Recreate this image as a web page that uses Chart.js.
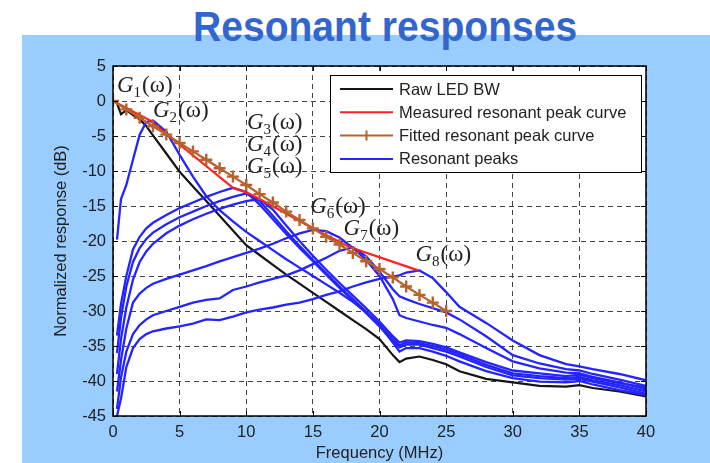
<!DOCTYPE html>
<html>
<head>
<meta charset="utf-8">
<title>Resonant responses</title>
<script src="https://cdn.jsdelivr.net/npm/chart.js@4.4.0/dist/chart.umd.min.js"></script>
<style>
  html, body { margin: 0; padding: 0; width: 710px; height: 463px; overflow: hidden; background: #fff; }
  #panel { position: absolute; left: 22px; top: 35px; right: 0; bottom: 0; background: #99ccff; }
  #title { position: absolute; left: 193px; top: 6px; margin: 0; white-space: nowrap;
           font: bold 42px 'Liberation Sans', Arial, Helvetica, sans-serif; line-height: 42px; color: #3366cc;
           transform: scaleX(0.93); transform-origin: 0 0; }
  #wrap { position: absolute; left: 0; top: 0; width: 710px; height: 463px; }
</style>
</head>
<body>
<div id="panel"></div>
<h1 id="title">Resonant responses</h1>
<div id="wrap"><canvas id="resChart" width="710" height="463"></canvas></div>
<script>
// frequency grid (MHz) shared by the raw response and the resonant peaks
const freqGrid = [0, 0.3, 0.6, 1, 1.5, 2, 2.5, 3, 4, 5, 6, 7, 8, 9, 10, 11, 12, 13, 14, 15,
                  16, 17, 18, 19, 20, 21, 21.5, 22, 23, 24, 25, 26, 28, 30, 32, 34, 35, 36, 38, 40];

const rawLed = [0, -0.3, -1.9, -1.3, -2.0, -2.6, -3.6, -4.9, -7.5, -10.1, -12.2, -14.3, -16.4, -18.5, -20.6, -22.0, -23.4, -24.8, -26.1, -27.4,
                -28.7, -30.0, -31.3, -32.6, -34.0, -36.3, -37.3, -36.8, -36.5, -37.0, -37.6, -38.6, -39.7, -40.2, -40.7, -40.8, -40.6, -41.0, -41.5, -42.2];

const peakG2 = [null, -19.8, -14.0, -12.0, -8.4, -4.8, -3.0, -2.8, -4.4, -7.7, -10.8, -13.6, -15.6, -17.2, -18.7, -20.0, -21.3, -22.6, -23.8, -25.0,
                -26.2, -27.4, -28.7, -30.2, -32.0, -34.5, -35.8, -35.3, -35.3, -35.8, -36.4, -37.2, -38.6, -39.6, -40.1, -40.2, -40.0, -40.5, -41.3, -42.0];
const peakG3 = [null, -33.5, -29.0, -25.0, -21.2, -19.4, -18.2, -17.4, -16.3, -15.3, -14.5, -13.7, -13.0, -12.4, -13.0, -14.8, -16.9, -19.0, -21.0, -22.9,
                -24.8, -26.7, -28.5, -30.3, -32.2, -34.3, -35.2, -34.8, -34.8, -35.3, -35.8, -36.5, -38.0, -39.2, -39.6, -39.8, -39.7, -40.1, -40.9, -41.8];
const peakG4 = [null, -36.0, -31.0, -26.5, -23.0, -21.0, -19.7, -18.8, -17.6, -16.6, -15.8, -15.0, -14.3, -13.7, -13.2, -14.3, -16.4, -18.6, -20.7, -22.7,
                -24.6, -26.5, -28.3, -30.1, -31.9, -34.0, -34.9, -34.5, -34.6, -35.0, -35.5, -36.2, -37.7, -38.9, -39.3, -39.6, -39.4, -39.9, -40.6, -41.5];
const peakG5 = [null, -39.0, -34.0, -29.5, -25.5, -23.0, -21.5, -20.4, -18.9, -17.8, -16.9, -16.1, -15.4, -14.8, -14.3, -14.0, -15.5, -17.8, -20.0, -22.1,
                -24.1, -26.0, -27.8, -29.6, -31.5, -33.6, -34.5, -34.2, -34.3, -34.7, -35.2, -35.9, -37.3, -38.5, -38.9, -39.3, -39.1, -39.6, -40.3, -40.9];
const peakG6 = [null, -41.5, -37.0, -32.5, -28.8, -27.5, -26.7, -26.1, -25.4, -24.8, -24.2, -23.6, -22.9, -22.3, -21.7, -21.1, -20.4, -19.6, -18.9, -18.4,
                -18.6, -19.5, -21.0, -22.7, -25.0, -28.3, -30.6, -31.0, -31.5, -32.0, -32.4, -33.3, -35.3, -37.2, -38.2, -38.8, -38.9, -39.4, -40.2, -41.2];
const peakG7 = [null, -44.0, -39.5, -35.8, -33.3, -32.0, -31.2, -30.6, -30.0, -29.4, -28.8, -28.4, -28.2, -27.0, -26.5, -25.9, -25.4, -24.9, -24.2, -23.3,
                -22.4, -21.4, -20.9, -22.2, -24.4, -26.9, -27.9, -28.3, -29.0, -29.6, -30.2, -31.2, -33.6, -36.3, -37.5, -38.3, -38.5, -39.0, -39.8, -40.7];
const peakG8 = [null, -45.0, -42.5, -38.0, -35.3, -34.0, -33.3, -32.9, -32.5, -32.2, -31.8, -31.2, -31.3, -30.8, -30.2, -29.8, -29.5, -29.1, -28.8, -28.3,
                -27.7, -27.2, -26.5, -25.9, -25.4, -25.1, -24.9, -24.5, -24.2, -25.3, -27.3, -29.4, -31.7, -34.2, -36.3, -37.6, -37.9, -38.3, -39.0, -39.9];
const peakSeries = [peakG2, peakG3, peakG4, peakG5, peakG6, peakG7, peakG8];

// envelope through the peaks, measured and fitted
const measuredFreq = [0, 2.8, 9, 10.2, 11, 15.2, 17.8, 22.9];
const measuredDb = [0, -2.8, -12.4, -13.2, -14.0, -18.4, -20.9, -24.2];
const fittedFreq = [0, 1, 2, 3, 4, 5, 6, 7, 8, 9, 10, 11, 12, 13, 14, 15, 16, 17, 18, 19, 20, 21, 22, 23, 24, 25];
const fittedDb = [0, -1.2, -2.4, -3.6, -4.8, -6.0, -7.2, -8.4, -9.6, -10.8, -12.0, -13.3, -14.5, -15.8, -17.0, -18.2,
                  -19.4, -20.5, -21.7, -22.9, -24.0, -25.2, -26.5, -27.7, -28.8, -30.0];

const xTicks = [0, 5, 10, 15, 20, 25, 30, 35, 40];
const yTicks = [5, 0, -5, -10, -15, -20, -25, -30, -35, -40, -45];

// G_n(w) annotations
const curveIndex = ['1', '2', '3', '4', '5', '6', '7', '8'];
const labelFreq = [0.3, 3.0, 10.05, 10.05, 10.05, 14.8, 17.3, 22.7];
const labelDb = [1.3, -2.3, -4.0, -7.1, -10.3, -16.0, -19.1, -22.9];

const legendLabels = ['Raw LED BW', 'Measured resonant peak curve', 'Fitted resonant peak curve', 'Resonant peaks'];

const SANS = "'Liberation Sans', Arial, Helvetica, sans-serif";
const SERIF = "'Liberation Serif', 'Times New Roman', serif";
const BLUE = '#2424ff';
const BROWN = '#b8612a';

function toPoints(xs, ys) {
    return xs.map((x, i) => ({ x: x, y: ys[i] })).filter(p => p.y !== null);
}

const datasets = [];
datasets.push({ label: legendLabels[2], data: toPoints(fittedFreq, fittedDb), borderColor: BROWN, borderWidth: 2.2,
                pointStyle: 'cross', pointRadius: 6, pointBorderWidth: 2.4, pointBorderColor: BROWN });
datasets.push({ label: legendLabels[1], data: toPoints(measuredFreq, measuredDb), borderColor: '#ff2020', borderWidth: 2.2, pointRadius: 0 });
peakSeries.forEach((s, i) => {
    datasets.push({ label: i === 0 ? legendLabels[3] : 'G' + (i + 2), data: toPoints(freqGrid, s),
                    borderColor: BLUE, borderWidth: 2.3, pointRadius: 0 });
});
datasets.push({ label: legendLabels[0], data: toPoints(freqGrid, rawLed), borderColor: '#151515', borderWidth: 2.2, pointRadius: 0 });

// white plot area, box, inward ticks, curve names and the boxed legend
const framePlugin = {
    id: 'frame',
    beforeDraw(chart) {
        const { ctx, chartArea: a } = chart;
        ctx.save();
        ctx.fillStyle = '#fff';
        ctx.fillRect(a.left, a.top, a.width, a.height);
        ctx.restore();
    },
    afterDatasetsDraw(chart) {
        const { ctx, chartArea: a, scales: { x, y } } = chart;
        ctx.save();

        // curve names
        ctx.fillStyle = '#222';
        ctx.textBaseline = 'alphabetic';
        ctx.textAlign = 'left';
        labelFreq.forEach((f, i) => {
            let px = x.getPixelForValue(f);
            const py = y.getPixelForValue(labelDb[i]);
            ctx.font = 'italic 23px ' + SERIF;
            ctx.fillText('G', px, py);
            px += ctx.measureText('G').width;
            ctx.font = '15px ' + SERIF;
            ctx.fillText(curveIndex[i], px, py + 5);
            px += ctx.measureText(curveIndex[i]).width + 1;
            ctx.font = '23px ' + SERIF;
            ctx.fillText('(\u03c9)', px, py);
        });

        // box and inward tick marks
        ctx.strokeStyle = '#000';
        ctx.lineWidth = 1.5;
        ctx.setLineDash([]);
        ctx.strokeRect(a.left, a.top, a.width, a.height);
        ctx.lineWidth = 1;
        ctx.beginPath();
        xTicks.forEach(v => {
            const px = Math.round(x.getPixelForValue(v)) + 0.5;
            ctx.moveTo(px, a.bottom); ctx.lineTo(px, a.bottom - 5);
            ctx.moveTo(px, a.top); ctx.lineTo(px, a.top + 5);
        });
        yTicks.forEach(v => {
            const py = Math.round(y.getPixelForValue(v)) + 0.5;
            ctx.moveTo(a.left, py); ctx.lineTo(a.left + 5, py);
            ctx.moveTo(a.right, py); ctx.lineTo(a.right - 5, py);
        });
        ctx.stroke();

        // legend
        const lx = a.left + 217, ly = a.top + 9, lw = 311, lh = 97;
        ctx.fillStyle = '#fff';
        ctx.fillRect(lx, ly, lw, lh);
        ctx.strokeStyle = '#000';
        ctx.strokeRect(lx + 0.5, ly + 0.5, lw, lh);
        ctx.font = '16.5px ' + SANS;
        ctx.textBaseline = 'middle';
        legendLabels.forEach((txt, i) => {
            const ds = chart.data.datasets.find(d => d.label === txt);
            const ry = ly + 14 + i * 23.3;
            ctx.strokeStyle = ds.borderColor;
            ctx.lineWidth = 2;
            ctx.beginPath();
            ctx.moveTo(lx + 10, ry); ctx.lineTo(lx + 63, ry);
            if (ds.pointStyle === 'cross') {
                ctx.moveTo(lx + 36.5, ry - 5); ctx.lineTo(lx + 36.5, ry + 5);
            }
            ctx.stroke();
            ctx.fillStyle = '#222';
            ctx.fillText(txt, lx + 69, ry + 1);
        });
        ctx.restore();
    }
};

new Chart(document.getElementById('resChart').getContext('2d'), {
    type: 'line',
    data: { datasets: datasets },
    options: {
        responsive: false,
        animation: false,
        devicePixelRatio: 1,
        layout: { padding: { top: 66, right: 64, left: 0, bottom: 0 } },
        elements: { line: { tension: 0, fill: false } },
        plugins: { legend: { display: false }, tooltip: { enabled: false } },
        scales: {
            x: {
                type: 'linear', min: 0, max: 40,
                afterBuildTicks: s => { s.ticks = xTicks.map(v => ({ value: v })); },
                afterFit: s => { s.height = 47; },
                grid: { color: '#444', lineWidth: 1, drawTicks: false },
                border: { display: false, dash: [5, 4] },
                ticks: { color: '#222', padding: 7, font: { family: SANS, size: 16.5 }, maxRotation: 0, callback: v => String(v) },
                title: { display: true, text: 'Frequency (MHz)', color: '#222', padding: { top: 0, bottom: 0 },
                         font: { family: SANS, size: 16.5 } }
            },
            y: {
                type: 'linear', min: -45, max: 5,
                afterBuildTicks: s => { s.ticks = yTicks.map(v => ({ value: v })); },
                afterFit: s => { s.width = 113; },
                grid: { color: '#444', lineWidth: 1, drawTicks: false },
                border: { display: false, dash: [5, 4] },
                ticks: { color: '#222', padding: 7, font: { family: SANS, size: 16.5 }, callback: v => String(v) },
                title: { display: true, text: 'Normalized response (dB)', color: '#222', padding: { top: 52, bottom: 0 },
                         font: { family: SANS, size: 16.5 } }
            }
        }
    },
    plugins: [framePlugin]
});
</script>
</body>
</html>
